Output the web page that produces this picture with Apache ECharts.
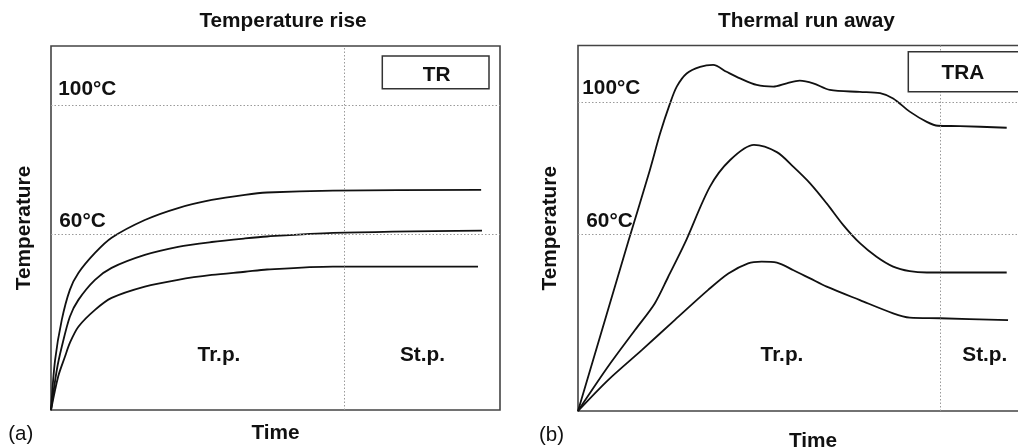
<!DOCTYPE html>
<html>
<head>
<meta charset="utf-8">
<script src="https://cdn.jsdelivr.net/npm/echarts@6/dist/echarts.min.js"></script>
<style>html,body{margin:0;padding:0;background:#fff}#c{width:1018px;height:448px}</style>
</head>
<body>
<div id="c"></div>
<script>
// ---- Panel (a): Temperature rise ----
const trHighTime = [0, 0.9, 2.4, 4.2, 6.1, 9.8, 13.5, 20.9, 28.3, 35.8, 43.2, 48.1, 62.8, 95.8];
const trHighTemp = [5.6, 21, 33.5, 42.8, 48.0, 54.2, 58.9, 64.4, 68.1, 70.6, 72.2, 72.9, 73.5, 73.7];
const trMidTime = [0, 1.3, 2.4, 4.2, 6.1, 9.8, 13.5, 20.9, 28.3, 35.8, 43.2, 48.1, 62.8, 96.0];
const trMidTemp = [5.6, 18.1, 25.2, 34.5, 39.7, 45.9, 49.6, 53.6, 56.1, 57.6, 58.7, 59.3, 60.4, 61.1];
const trLowTime = [0, 1.6, 3.1, 4.2, 6.1, 9.8, 13.5, 20.9, 28.3, 35.8, 43.2, 48.1, 62.8, 95.1];
const trLowTemp = [5.6, 16.0, 22.1, 26.4, 31.4, 36.6, 40.3, 43.8, 45.9, 47.4, 48.4, 49.1, 50.0, 50.0];
const trRefTemps = [60, 100];
const trPhaseBoundary = 65.3;

// ---- Panel (b): Thermal run away ----
const traHighTime = [0, 11.2, 16.0, 18.3, 20.5, 22.0, 24.2, 27.2, 30.1, 33.1, 36.1, 39.8, 43.5, 46.5, 49.4, 52.4, 56.1, 62.8, 67.3, 70.2, 73.9, 77.7, 80.2, 85.1, 95.5];
const traHighTemp = [6.3, 57.8, 79.5, 90.7, 99.8, 104.9, 108.9, 110.9, 111.5, 109.4, 107.4, 105.4, 104.9, 105.9, 106.7, 105.9, 103.9, 103.3, 102.9, 101.3, 97.3, 94.2, 93.0, 92.9, 92.4];
const traMidTime = [0, 6.7, 12.7, 17.1, 20.1, 23.8, 29.4, 33.9, 39.2, 44.3, 48.0, 51.7, 55.4, 59.1, 62.8, 66.5, 70.2, 73.9, 77.7, 95.5];
const traMidTemp = [6.3, 19.8, 30.9, 39.0, 47.1, 57.3, 74.5, 82.6, 87.2, 85.0, 80.5, 75.5, 69.4, 62.8, 57.3, 53.2, 50.2, 48.8, 48.4, 48.4];
const traLowTime = [0, 6.7, 14.2, 21.6, 29.0, 33.5, 37.9, 40.9, 44.3, 48.0, 51.7, 55.4, 62.8, 70.2, 73.9, 80.6, 95.8];
const traLowTemp = [6.3, 15.7, 24.8, 34.0, 43.1, 48.1, 51.2, 51.7, 51.4, 49.1, 46.6, 44.1, 40.0, 36.0, 34.7, 34.5, 33.9];
const traRefTemps = [60, 100];
const traPhaseBoundary = 80.6;

const FONT = 'Liberation Sans, Arial, Helvetica, sans-serif';
const zip = (t, v) => t.map((x, i) => [x, v[i]]);

const chart = echarts.init(document.getElementById('c'), null, {renderer: 'canvas'});

function curve(name, idx, t, v, mark) {
  const s = {
    name, type: 'line', xAxisIndex: idx, yAxisIndex: idx,
    data: zip(t, v), smooth: 0.3, showSymbol: false, silent: true,
    lineStyle: {color: '#111', width: 1.8}, z: 3
  };
  if (mark) s.markLine = mark;
  return s;
}
function refLines(temps, boundary) {
  return {
    silent: true, symbol: 'none', label: {show: false}, animation: false,
    lineStyle: {color: '#9a9a9a', width: 1, type: [1.5, 2]},
    data: temps.map(t => ({yAxis: t})).concat([{xAxis: boundary}])
  };
}
const bold = (text, x, y, align) => ({
  type: 'text', x, y, z: 10,
  style: {text, fill: '#111', font: 'bold 20.8px ' + FONT, align: align || 'left', verticalAlign: 'middle'}
});
const reg = (text, x, y) => ({
  type: 'text', x, y, z: 10,
  style: {text, fill: '#111', font: '20.5px ' + FONT, align: 'center', verticalAlign: 'middle'}
});

const axisCommon = {
  axisLine: {show: false}, axisTick: {show: false}, axisLabel: {show: false}, splitLine: {show: false}
};
const nameStyle = {fontFamily: FONT, fontWeight: 'bold', fontSize: 20.8, color: '#111'};

chart.setOption({
  animation: false,
  backgroundColor: '#fff',
  grid: [
    {left: 51, top: 46, width: 449, height: 364, show: true, borderColor: '#444', borderWidth: 1.6, containLabel: false, outerBoundsMode: 'none'},
    {left: 578, top: 45.5, width: 470, height: 365.5, show: true, borderColor: '#444', borderWidth: 1.6, containLabel: false, outerBoundsMode: 'none'}
  ],
  xAxis: [
    Object.assign({type: 'value', gridIndex: 0, min: 0, max: 100, name: 'Time', nameLocation: 'middle', nameGap: 13, nameTextStyle: nameStyle}, axisCommon),
    Object.assign({type: 'value', gridIndex: 1, min: 0, max: 104.7, name: 'Time', nameLocation: 'middle', nameGap: 20, nameTextStyle: nameStyle}, axisCommon)
  ],
  yAxis: [
    Object.assign({type: 'value', gridIndex: 0, min: 5.65, max: 118.2, name: 'Temperature', nameLocation: 'middle', nameRotate: 90, nameGap: 16, nameTextStyle: nameStyle}, axisCommon),
    Object.assign({type: 'value', gridIndex: 1, min: 6.3, max: 117.4, name: 'Temperature', nameLocation: 'middle', nameRotate: 90, nameGap: 17, nameTextStyle: nameStyle}, axisCommon)
  ],
  series: [
    curve('TR high', 0, trHighTime, trHighTemp, refLines(trRefTemps, trPhaseBoundary)),
    curve('TR mid', 0, trMidTime, trMidTemp),
    curve('TR low', 0, trLowTime, trLowTemp),
    curve('TRA high', 1, traHighTime, traHighTemp, refLines(traRefTemps, traPhaseBoundary)),
    curve('TRA mid', 1, traMidTime, traMidTemp),
    curve('TRA low', 1, traLowTime, traLowTemp)
  ],
  graphic: [
    bold('Temperature rise', 283, 21.5, 'center'),
    bold('Thermal run away', 806.5, 21.5, 'center'),
    {type: 'rect', z: 9, shape: {x: 382.3, y: 56, width: 106.7, height: 32.7}, style: {fill: '#fff', stroke: '#333', lineWidth: 1.5}},
    bold('TR', 436.7, 75, 'center'),
    {type: 'rect', z: 9, shape: {x: 908.3, y: 51.7, width: 130, height: 40}, style: {fill: '#fff', stroke: '#333', lineWidth: 1.5}},
    bold('TRA', 962.8, 73.5, 'center'),
    bold('100\u00B0C', 58.3, 89.7),
    bold('60\u00B0C', 59.3, 221.3),
    bold('100\u00B0C', 582.3, 88),
    bold('60\u00B0C', 586.3, 221.3),
    bold('Tr.p.', 219, 355.7, 'center'),
    bold('St.p.', 422.5, 355.7, 'center'),
    bold('Tr.p.', 782, 355.7, 'center'),
    bold('St.p.', 984.8, 355.7, 'center'),
    reg('(a)', 20.8, 434),
    reg('(b)', 551.5, 435)
  ]
});
</script>
</body>
</html>
